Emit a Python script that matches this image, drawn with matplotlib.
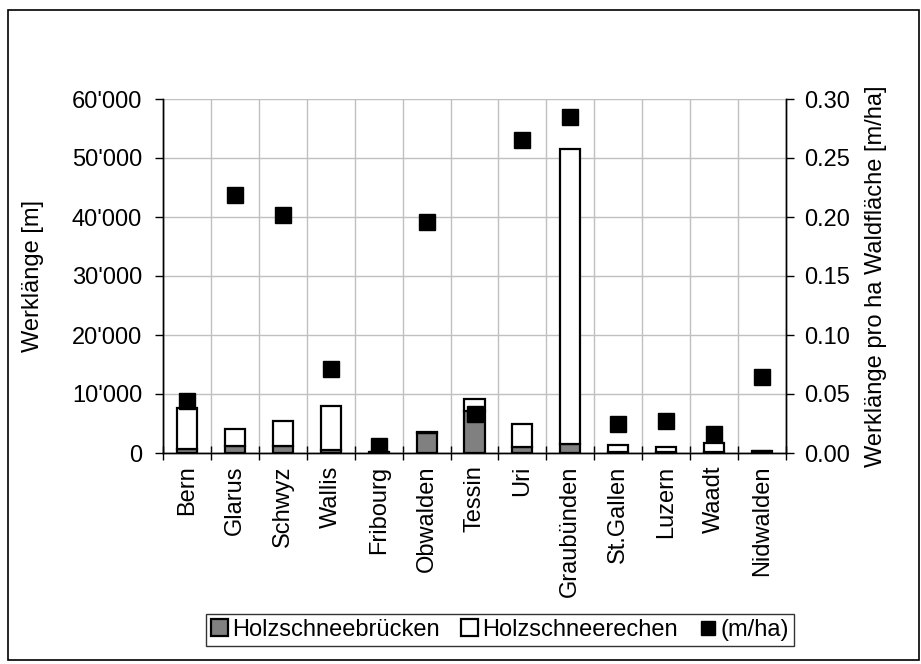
import numpy as np
import matplotlib
matplotlib.use("Agg")
import matplotlib.pyplot as plt
from matplotlib.ticker import FuncFormatter, FixedLocator
from matplotlib.patches import Rectangle

plt.rcParams['font.family'] = ['Liberation Sans', 'DejaVu Sans']
FS = 17

# Werklänge pro Kanton
kantone = ["Bern", "Glarus", "Schwyz", "Wallis", "Fribourg", "Obwalden", "Tessin",
           "Uri", "Graubünden", "St.Gallen", "Luzern", "Waadt", "Nidwalden"]
bruecken = [600, 1200, 1200, 500, 150, 3400, 7200, 1000, 1500, 150, 100, 100, 300]
rechen = [7000, 2800, 4200, 7400, 100, 150, 2000, 3900, 50100, 1150, 900, 1650, 80]
pro_ha = [0.044, 0.219, 0.202, 0.071, 0.006, 0.196, 0.033,
          0.265, 0.285, 0.025, 0.027, 0.016, 0.064]

fig = plt.figure(figsize=(9.21, 6.64), dpi=100)
ax = fig.add_axes([163/921, 1 - 453/664, (786 - 163)/921, (453 - 99)/664])
ax2 = ax.twinx()

x = np.arange(len(kantone))
w = 0.42
ax.bar(x, bruecken, w, color='#808080', edgecolor='black', linewidth=1.6,
       label='Holzschneebrücken', zorder=3)
ax.bar(x, rechen, w, bottom=bruecken, color='white', edgecolor='black', linewidth=1.6,
       label='Holzschneerechen', zorder=3)
ax2.plot(x, pro_ha, 's', color='black', markersize=11.5, label='(m/ha)', zorder=4)

ax.set_xlim(-0.5, len(kantone) - 0.5)
ax.set_ylim(0, 60000)
ax2.set_ylim(0, 0.30)
ax.set_yticks(np.arange(0, 60001, 10000))
ax2.set_yticks(np.arange(0, 0.301, 0.05))
ax.yaxis.set_major_formatter(FuncFormatter(lambda v, p: f"{int(v):,}".replace(",", "'")))
ax2.yaxis.set_major_formatter(FuncFormatter(lambda v, p: f"{v:.2f}"))

ax.set_xticks(x)
ax.set_xticklabels(kantone, rotation=90, fontsize=FS)
ax.tick_params(axis='x', length=0, pad=9)
ax.xaxis.set_minor_locator(FixedLocator(np.arange(-0.5, len(kantone), 1)))
ax.tick_params(axis='x', which='minor', length=10, direction='inout', width=1)
ax.tick_params(axis='y', labelsize=FS, length=6, pad=9, direction='out', width=1)
ax2.tick_params(axis='y', labelsize=FS, length=6, pad=7, direction='out', width=1)

ax.grid(True, axis='y', color='#c0c0c0', linewidth=1, zorder=0)
ax.grid(True, axis='x', which='minor', color='#c0c0c0', linewidth=1, zorder=0)
ax.set_axisbelow(True)

for a in (ax, ax2):
    a.spines['top'].set_visible(False)
    a.spines['left'].set_linewidth(1)
    a.spines['right'].set_linewidth(1)
    a.spines['bottom'].set_linewidth(1)

ax.set_ylabel("Werklänge [m]", fontsize=FS, labelpad=20)
ax2.set_ylabel("Werklänge pro ha Waldfläche [m/ha]", fontsize=FS, labelpad=11)

h1, l1 = ax.get_legend_handles_labels()
h2, l2 = ax2.get_legend_handles_labels()
leg = fig.legend(h1 + h2, l1 + l2, loc='center', bbox_to_anchor=(500/921, 1 - 630/664),
                 ncol=3, fontsize=FS, frameon=True, fancybox=False, edgecolor='black',
                 handlelength=0.7, handleheight=0.7, handletextpad=0.2, columnspacing=0.9,
                 borderpad=0.2, markerscale=0.85)
leg.get_frame().set_linewidth(1)

fig.patches.append(Rectangle((8/921, 1 - 660/664), 911/921, 650/664, transform=fig.transFigure,
                             fill=False, edgecolor='black', linewidth=1.2))

fig.savefig("out.png", dpi=100)
